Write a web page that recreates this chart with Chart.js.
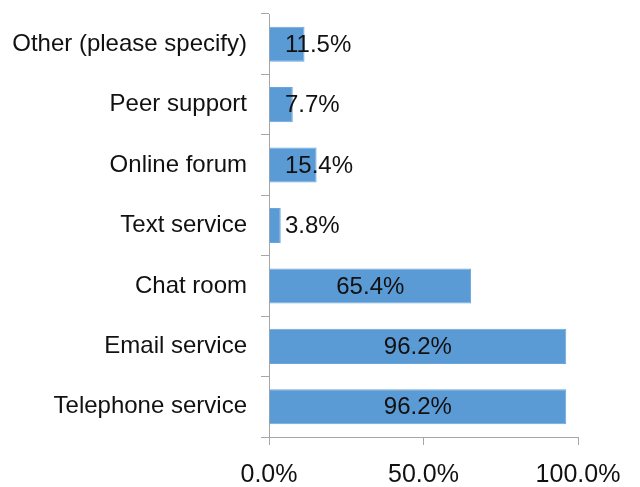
<!DOCTYPE html>
<html>
<head>
<meta charset="utf-8">
<script src="https://cdn.jsdelivr.net/npm/chart.js@4"></script>
<style>
  html, body { margin: 0; padding: 0; background: #fff; }
  #wrap { width: 640px; height: 487px; }
</style>
</head>
<body>
<div id="wrap"><canvas id="servicesChart" width="640" height="487"></canvas></div>
<script>
// Categories and values (percent of respondents)
const categories = ['Other (please specify)', 'Peer support', 'Online forum', 'Text service', 'Chat room', 'Email service', 'Telephone service'];
const percentages = [11.5, 7.7, 15.4, 3.8, 65.4, 96.2, 96.2];
const xTicks = [0, 50, 100];

const FONT = '"Liberation Sans", Arial, sans-serif';

// Draw value labels: centred on the bar, pushed right when the bar is too short
const valueLabels = {
    id: 'valueLabels',
    afterDatasetsDraw(chart) {
        const ctx = chart.ctx;
        const meta = chart.getDatasetMeta(0);
        const x0 = chart.scales.x.getPixelForValue(0);
        ctx.save();
        ctx.font = '24px ' + FONT;
        ctx.fillStyle = '#111';
        ctx.textBaseline = 'middle';
        ctx.textAlign = 'center';
        meta.data.forEach(function(bar, i) {
            const text = percentages[i].toFixed(1) + '%';
            const w = ctx.measureText(text).width;
            const cx = Math.max((bar.base + bar.x) / 2, x0 + 16 + w / 2);
            ctx.fillText(text, cx, bar.y + 1);
        });
        ctx.restore();
    }
};

const ctx = document.getElementById('servicesChart').getContext('2d');
new Chart(ctx, {
    type: 'bar',
    data: {
        labels: categories,
        datasets: [{
            data: percentages,
            backgroundColor: '#5B9BD5',
            borderColor: '#6aa6dc',
            borderWidth: 1,
            barPercentage: 0.58,
            categoryPercentage: 1
        }]
    },
    options: {
        indexAxis: 'y',
        responsive: false,
        animation: false,
        layout: { padding: { left: 0, right: 62, top: 14, bottom: 0 } },
        plugins: {
            legend: { display: false },
            tooltip: { enabled: false }
        },
        scales: {
            x: {
                min: 0,
                max: 100,
                afterBuildTicks(scale) {
                    scale.ticks = xTicks.map(v => ({ value: v }));
                },
                afterFit(scale) { scale.height = 50; },
                grid: {
                    drawOnChartArea: false,
                    drawTicks: true,
                    tickLength: 8,
                    color: '#a6a6a6'
                },
                border: { color: '#a6a6a6', width: 1 },
                ticks: {
                    color: '#111',
                    font: { family: FONT, size: 25 },
                    padding: 15,
                    maxRotation: 0,
                    callback: v => v.toFixed(1) + '%'
                }
            },
            y: {
                afterFit(scale) {
                    scale.width = 269;
                    scale.paddingTop = 0;
                    scale.paddingBottom = 0;
                },
                grid: {
                    drawOnChartArea: false,
                    drawTicks: true,
                    tickLength: 8,
                    offset: true,
                    color: '#a6a6a6'
                },
                border: { color: '#a6a6a6', width: 1 },
                ticks: {
                    color: '#111',
                    font: { family: FONT, size: 24 },
                    padding: 14
                }
            }
        }
    },
    plugins: [valueLabels]
});
</script>
</body>
</html>
